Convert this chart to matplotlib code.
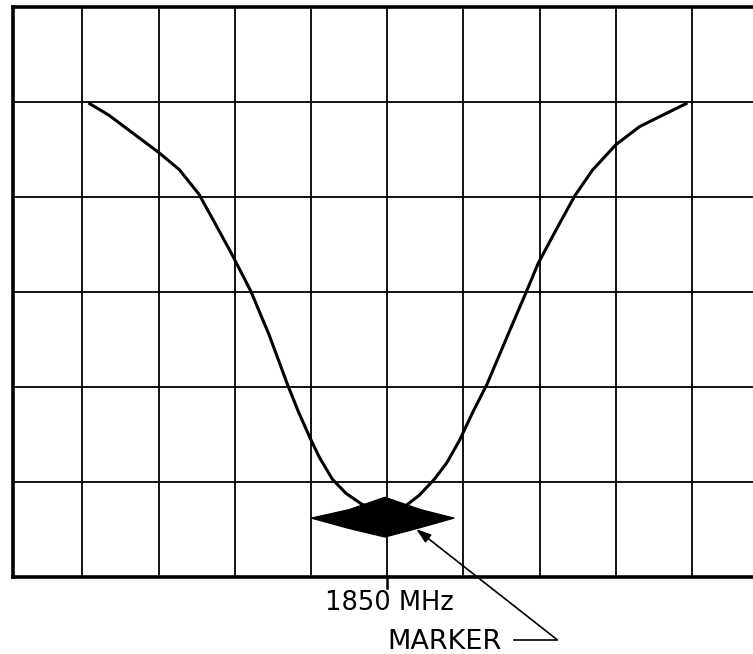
import matplotlib
matplotlib.use("Agg")
import matplotlib.pyplot as plt
from matplotlib.patches import Polygon

# Trace (screen divisions; x: 0 = 1850 MHz centre line, y: 0 = bottom graticule line)
trace_x = [-3.92, -3.65, -3.35, -3.00, -2.73, -2.47, -2.25, -2.04, -1.79, -1.55,
           -1.31, -1.16, -1.01, -0.89, -0.72, -0.54, -0.34, -0.04,
           0.26, 0.42, 0.62, 0.78, 0.95, 1.12, 1.31, 1.60, 1.83, 1.98, 2.22,
           2.46, 2.69, 3.00, 3.31, 3.61, 3.94]
trace_y = [4.99, 4.86, 4.68, 4.47, 4.29, 4.03, 3.71, 3.40, 3.01, 2.55,
           2.03, 1.73, 1.46, 1.26, 1.03, 0.88, 0.77, 0.66,
           0.76, 0.86, 1.03, 1.20, 1.44, 1.73, 2.03, 2.58, 3.01, 3.30, 3.66,
           4.01, 4.28, 4.55, 4.74, 4.86, 4.99]

# Marker diamond vertices
marker_x = [-1.00, -0.50, -0.03, 0.44, 0.88, 0.44, -0.03, -0.50]
marker_y = [0.62, 0.71, 0.84, 0.71, 0.62, 0.52, 0.42, 0.51]

# Graticule
v_lines = [-4, -3, -2, -1, 0, 1, 2, 3, 4]
h_lines = [1, 2, 3, 4, 5]

center_label = "1850 MHz"
marker_label = "MARKER"

W, H = 753, 654
fig = plt.figure(figsize=(W / 100, H / 100), dpi=100)
ax = fig.add_axes([13 / W, (H - 577) / H, (W - 13) / W, (577 - 7) / H])
ax.set_xlim(-4.91, 4.80)
ax.set_ylim(0, 6)
ax.set_xticks([])
ax.set_yticks([])
for s in ["left", "top", "bottom"]:
    ax.spines[s].set_linewidth(2.6)
    ax.spines[s].set_color("black")
ax.spines["right"].set_visible(False)

for xv in v_lines:
    ax.axvline(xv, color="black", lw=1.3, zorder=1)
for yv in h_lines:
    ax.axhline(yv, color="black", lw=1.3, zorder=1)

ax.plot(trace_x, trace_y, color="black", lw=2.2, zorder=3,
        solid_capstyle="butt", solid_joinstyle="round")
ax.add_patch(Polygon(list(zip(marker_x, marker_y)), closed=True,
                     facecolor="black", edgecolor="black", lw=0.8, zorder=4))

# centre tick below the graticule
ax.plot([0, 0], [0, -0.12], color="black", lw=1.8, clip_on=False)

ax.text(0.03, -0.27, center_label, ha="center", va="center",
        fontsize=18.5, family="DejaVu Sans", clip_on=False)
ax.text(0.75, -0.68, marker_label, ha="center", va="center",
        fontsize=19.5, family="DejaVu Sans", clip_on=False)

# leader line with arrow to the marker
ax.plot([1.66, 2.23], [-0.66, -0.66], color="black", lw=1.2, clip_on=False)
ax.annotate("", xy=(0.38, 0.505), xytext=(2.23, -0.66),
            arrowprops=dict(arrowstyle="-|>,head_length=0.9,head_width=0.3",
                            color="black", lw=1.2, shrinkA=0, shrinkB=0),
            annotation_clip=False)

fig.savefig("out.png", dpi=100, facecolor="white")
